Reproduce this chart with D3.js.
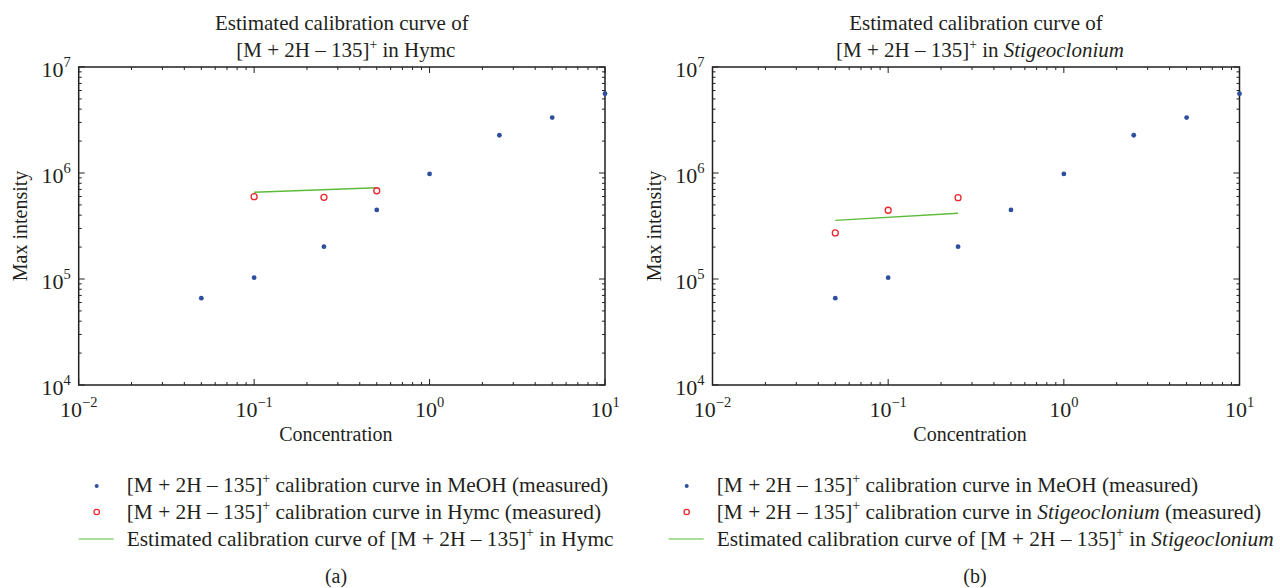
<!DOCTYPE html>
<html lang="en">
<head>
<meta charset="utf-8">
<title>Estimated calibration curves</title>
<script src="https://cdn.jsdelivr.net/npm/d3@7"></script>
<style>
	body { margin: 0; background: #fff; }
	svg text { font-family: "Liberation Serif", "DejaVu Serif", serif; fill: #231f20; }
</style>
</head>
<body>
<div id="vis"></div>
<script>
// MeOH measurements, same in both panels
var conc = [0.05, 0.1, 0.25, 0.5, 1, 2.5, 5, 10];
var meoh = [6.6e4, 1.03e5, 2.02e5, 4.48e5, 9.8e5, 2.27e6, 3.33e6, 5.6e6];

// panel (a) Hymc
var hymcConc = [0.1, 0.25, 0.5];
var hymcMeasured = [5.98e5, 5.9e5, 6.8e5];
var hymcFitConc = [0.1, 0.5];
var hymcFit = [6.58e5, 7.26e5];

// panel (b) Stigeoclonium
var stigConc = [0.05, 0.1, 0.25];
var stigMeasured = [2.72e5, 4.45e5, 5.85e5];
var stigFitConc = [0.05, 0.25];
var stigFit = [3.58e5, 4.17e5];

var xDecades = [-2, -1, 0, 1];
var yDecades = [4, 5, 6, 7];

var blue = "#2d4f9e", red = "#e8262d", green = "#5dbb3a";

var svg = d3.select("#vis").append("svg").attr("width", 1280).attr("height", 588);

// adds "[M + 2H – 135]+" with superscript into a text element
function ion(t, fs) {
	t.append("tspan").text("[M + 2H \u2013 135]");
	t.append("tspan").attr("dy", -0.4 * fs).attr("font-size", fs * 0.65).text("+");
	t.append("tspan").attr("dy", 0.4 * fs).text("\u00a0");
}

function panel(cfg) {
	var top = 67, bottom = 385;
	var x = d3.scaleLog().domain([0.01, 10]).range([cfg.left, cfg.right]);
	var y = d3.scaleLog().domain([1e4, 1e7]).range([bottom, top]);
	var g = svg.append("g");
	var mid = (cfg.left + cfg.right) / 2;

	// title
	var tfs = 21;
	g.append("text").attr("x", mid).attr("y", 30).attr("text-anchor", "middle").attr("font-size", tfs)
		.text("Estimated calibration curve of");
	var t2 = g.append("text").attr("x", mid + 4).attr("y", 57).attr("text-anchor", "middle").attr("font-size", tfs);
	ion(t2, tfs);
	t2.append("tspan").text("in ");
	t2.append("tspan").attr("font-style", cfg.italic ? "italic" : "normal").text(cfg.name);

	// minor + major ticks, all four sides, pointing in
	var minorX = [], minorY = [];
	xDecades.slice(0, -1).forEach(function(k) { for (var m = 2; m < 10; m++) minorX.push(m * Math.pow(10, k)); });
	yDecades.slice(0, -1).forEach(function(k) { for (var m = 2; m < 10; m++) minorY.push(m * Math.pow(10, k)); });
	var ticks = g.append("g").attr("stroke", "#231f20").attr("stroke-width", 1);
	function xt(vals, len) {
		vals.forEach(function(v) {
			ticks.append("line").attr("x1", x(v)).attr("x2", x(v)).attr("y1", bottom).attr("y2", bottom - len);
			ticks.append("line").attr("x1", x(v)).attr("x2", x(v)).attr("y1", top).attr("y2", top + len);
		});
	}
	function yt(vals, len) {
		vals.forEach(function(v) {
			ticks.append("line").attr("y1", y(v)).attr("y2", y(v)).attr("x1", cfg.left).attr("x2", cfg.left + len);
			ticks.append("line").attr("y1", y(v)).attr("y2", y(v)).attr("x1", cfg.right).attr("x2", cfg.right - len);
		});
	}
	xt(minorX, 3); yt(minorY, 3);
	xt(xDecades.map(function(k) { return Math.pow(10, k); }), 6);
	yt(yDecades.map(function(k) { return Math.pow(10, k); }), 6);

	g.append("rect").attr("x", cfg.left).attr("y", top).attr("width", cfg.right - cfg.left).attr("height", bottom - top)
		.attr("fill", "none").attr("stroke", "#231f20").attr("stroke-width", 1.5);

	// tick labels
	xDecades.forEach(function(k) {
		var t = g.append("text").attr("x", x(Math.pow(10, k))).attr("y", 417).attr("text-anchor", "middle").attr("font-size", 22);
		t.append("tspan").text("10");
		t.append("tspan").attr("dy", -10).attr("font-size", 14.5).text(k < 0 ? "\u2212" + (-k) : k);
	});
	yDecades.forEach(function(k) {
		var t = g.append("text").attr("x", cfg.left - 8).attr("y", y(Math.pow(10, k)) + 10).attr("text-anchor", "end").attr("font-size", 22);
		t.append("tspan").text("10");
		t.append("tspan").attr("dy", -10).attr("font-size", 14.5).text(k);
	});

	g.append("text").attr("x", mid - 6).attr("y", 441).attr("text-anchor", "middle").attr("font-size", 20).text("Concentration");
	g.append("text").attr("transform", "translate(" + (cfg.left - 52) + ",226) rotate(-90)")
		.attr("text-anchor", "middle").attr("font-size", 20).text("Max intensity");

	// data
	var line = d3.line().x(function(d) { return x(d[0]); }).y(function(d) { return y(d[1]); });
	g.append("path").datum(d3.zip(cfg.fitConc, cfg.fit)).attr("d", line)
		.attr("fill", "none").attr("stroke", green).attr("stroke-width", 1.3);
	g.selectAll("circle.meoh").data(d3.zip(conc, meoh)).enter().append("circle").attr("class", "meoh")
		.attr("cx", function(d) { return x(d[0]); }).attr("cy", function(d) { return y(d[1]); })
		.attr("r", 2.4).attr("fill", blue);
	g.selectAll("circle.meas").data(d3.zip(cfg.conc, cfg.measured)).enter().append("circle").attr("class", "meas")
		.attr("cx", function(d) { return x(d[0]); }).attr("cy", function(d) { return y(d[1]); })
		.attr("r", 3).attr("fill", "none").attr("stroke", red).attr("stroke-width", 1.3);

	// legend
	var lx = cfg.legendX, rows = [492, 519, 546], fs = 21.4;
	g.append("circle").attr("cx", lx).attr("cy", rows[0] - 6).attr("r", 2).attr("fill", blue);
	g.append("circle").attr("cx", lx).attr("cy", rows[1] - 7).attr("r", 2.7).attr("fill", "none").attr("stroke", red).attr("stroke-width", 1.2);
	g.append("line").attr("x1", lx - 18).attr("x2", lx + 17).attr("y1", rows[2] - 7).attr("y2", rows[2] - 7)
		.attr("stroke", green).attr("stroke-width", 1.2);
	var tx = lx + 30;
	var r1 = g.append("text").attr("x", tx).attr("y", rows[0]).attr("font-size", fs);
	ion(r1, fs); r1.append("tspan").text("calibration curve in MeOH (measured)");
	var r2 = g.append("text").attr("x", tx).attr("y", rows[1]).attr("font-size", fs);
	ion(r2, fs); r2.append("tspan").text("calibration curve in ");
	r2.append("tspan").attr("font-style", cfg.italic ? "italic" : "normal").text(cfg.name);
	r2.append("tspan").text(" (measured)");
	var r3 = g.append("text").attr("x", tx).attr("y", rows[2]).attr("font-size", fs);
	r3.append("tspan").text("Estimated calibration curve of ");
	ion(r3, fs); r3.append("tspan").text("in ");
	r3.append("tspan").attr("font-style", cfg.italic ? "italic" : "normal").text(cfg.name);

	g.append("text").attr("x", cfg.capX).attr("y", 583).attr("text-anchor", "middle").attr("font-size", 20).text(cfg.caption);
}

panel({ left: 78.7, right: 605, name: "Hymc", italic: false, conc: hymcConc, measured: hymcMeasured,
	fitConc: hymcFitConc, fit: hymcFit, legendX: 96.7, capX: 336, caption: "(a)" });
panel({ left: 712.5, right: 1239.5, name: "Stigeoclonium", italic: true, conc: stigConc, measured: stigMeasured,
	fitConc: stigFitConc, fit: stigFit, legendX: 686.7, capX: 975, caption: "(b)" });
</script>
</body>
</html>
